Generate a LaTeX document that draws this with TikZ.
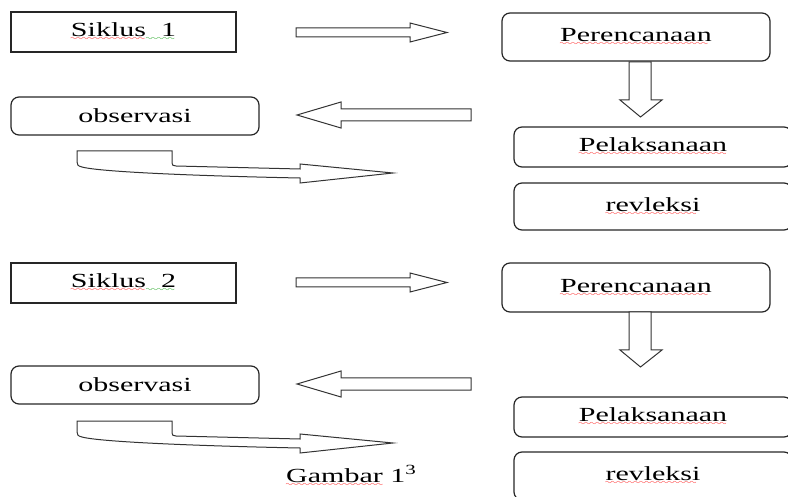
\documentclass[tikz,border=0pt]{standalone}
\usepackage{fontspec}
\setmainfont{Liberation Serif}[FakeStretch=1.5]
\font\wavefont=lasy8
\newcommand\wavebar[2]{\setbox0\hbox{#2}\rlap{\lower4pt\hbox to\wd0{\color{#1}\leaders\hbox{\wavefont\char58}\hfil}}\box0\relax}
\tikzset{
  sharpbox/.style={draw=black!85, line width=1.2pt, inner sep=0pt},
  roundbox/.style={sharpbox, rounded corners=8pt},
  blockarrow/.style={draw=black!80, line width=1pt, fill=white, line join=miter},
}
\begin{document}
\begin{tikzpicture}[x=1pt,y=-1pt,font=\fontsize{20}{24}\selectfont]
\useasboundingbox (0,0) rectangle (788,497);
\clip (0,0) rectangle (788,497);

%siklus 1
\node[sharpbox, minimum width=225pt, minimum height=40pt] (siklusA) at (123.5,32) {\wavebar{red}{Siklus}\wavebar{green!60!black}{~~1}};
\node[roundbox, minimum width=268pt, minimum height=48pt] (renA) at (636,37) {\wavebar{red}{Perencanaan}};
\node[roundbox, minimum width=278pt, minimum height=40pt] (laksA) at (653,147) {\wavebar{red}{Pelaksanaan}};
\node[roundbox, minimum width=278pt, minimum height=47pt] (refA) at (653,206.5) {\wavebar{red}{revleksi}};
\node[roundbox, minimum width=248pt, minimum height=38pt] (obsA) at (135,116) {observasi};

\draw[blockarrow] (296,28) -- (410,28) -- (410,23) -- (447,32.5) -- (410,42) -- (410,37) -- (296,37) -- cycle;
\draw[blockarrow] (629,62) -- (629,100) -- (620,100) -- (640.5,117) -- (662,100) -- (651,100) -- (651,62) -- cycle;
\draw[blockarrow] (471,109) -- (341,109) -- (341,102) -- (297,115) -- (341,128) -- (341,121) -- (471,121) -- cycle;
\draw[blockarrow] (77,151) -- (172,151) -- (172,163) .. controls (172,165) and (173,166) .. (176,166)
  -- (300,169) -- (300,164) -- (393,173) -- (300,183) -- (300,178)
  .. controls (200,176) and (100,172) .. (82,167) .. controls (78,166) and (77,165) .. (77,162) -- cycle;

%siklus 2
\node[sharpbox, minimum width=225pt, minimum height=40pt] (siklusB) at (123.5,283) {\wavebar{red}{Siklus}\wavebar{green!60!black}{~~2}};
\node[roundbox, minimum width=268pt, minimum height=49pt] (renB) at (636,287.5) {\wavebar{red}{Perencanaan}};
\node[roundbox, minimum width=278pt, minimum height=40pt] (laksB) at (653,417) {\wavebar{red}{Pelaksanaan}};
\node[roundbox, minimum width=278pt, minimum height=48pt] (refB) at (653,476) {\wavebar{red}{revleksi}};
\node[roundbox, minimum width=248pt, minimum height=38pt] (obsB) at (135,385) {observasi};

\draw[blockarrow] (296,278) -- (410,278) -- (410,273) -- (447,282.5) -- (410,292) -- (410,287) -- (296,287) -- cycle;
\draw[blockarrow] (629,312) -- (629,350) -- (620,350) -- (640.5,367) -- (662,350) -- (651,350) -- (651,312) -- cycle;
\draw[blockarrow] (471,378) -- (341,378) -- (341,371) -- (297,384) -- (341,397) -- (341,390) -- (471,390) -- cycle;
\draw[blockarrow] (77,421) -- (172,421) -- (172,433) .. controls (172,435) and (173,436) .. (176,436)
  -- (300,439) -- (300,434) -- (393,443) -- (300,453) -- (300,448)
  .. controls (200,446) and (100,442) .. (82,437) .. controls (78,436) and (77,435) .. (77,432) -- cycle;

\node[anchor=base west, inner sep=0pt] (gambar) at (286,482) {\wavebar{red}{Gambar} 1\textsuperscript{3}};
\end{tikzpicture}
\end{document}
